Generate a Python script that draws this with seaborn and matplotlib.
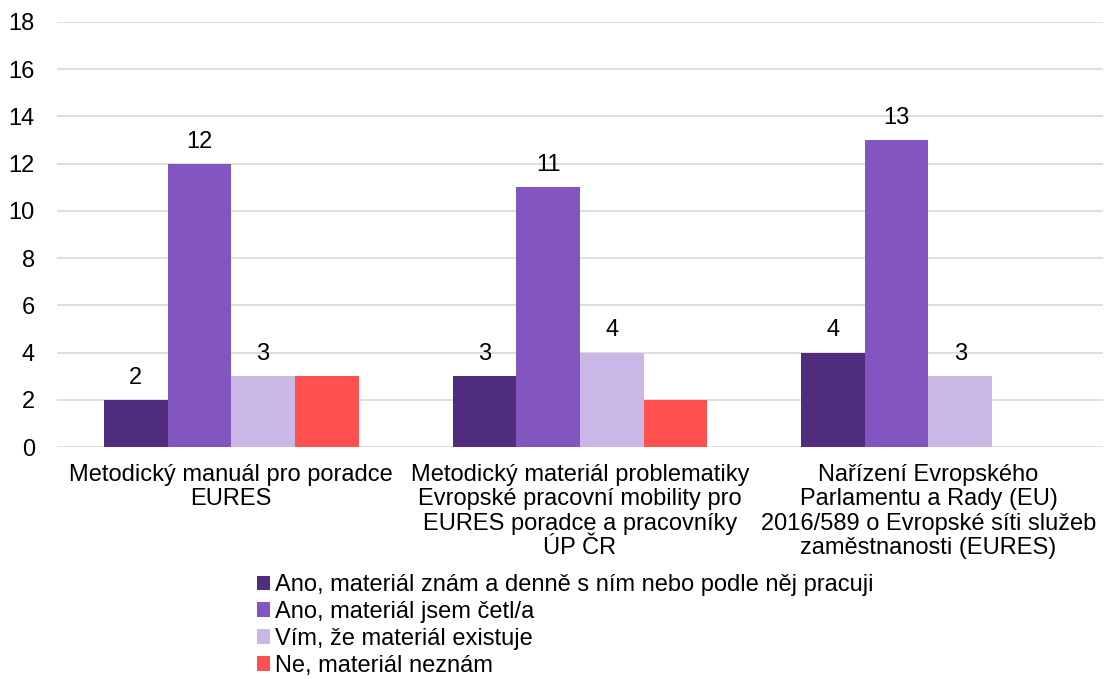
import pandas as pd
import matplotlib.pyplot as plt
import seaborn as sns

# === Data ===
categories = [
    "Metodický manuál pro poradce\nEURES",
    "Metodický materiál problematiky\nEvropské pracovní mobility pro\nEURES poradce a pracovníky\nÚP ČR",
    "Nařízení Evropského\nParlamentu a Rady (EU)\n2016/589 o Evropské síti služeb\nzaměstnanosti (EURES)",
]
series = [
    "Ano, materiál znám a denně s ním nebo podle něj pracuji",
    "Ano, materiál jsem četl/a",
    "Vím, že materiál existuje",
    "Ne, materiál neznám",
]
values = {
    series[0]: [2, 3, 4],
    series[1]: [12, 11, 13],
    series[2]: [3, 4, 3],
    series[3]: [3, 2, 0],
}
colors = ["#502D7E", "#8355C1", "#CAB7E5", "#FF5050"]

rows = []
for s in series:
    for c, v in zip(categories, values[s]):
        rows.append({"kategorie": c, "odpoved": s, "pocet": v})
df = pd.DataFrame(rows)

# === Plot ===
sns.set_style("white")
plt.rcParams["font.family"] = ["Liberation Sans", "DejaVu Sans"]
fs = 17

fig = plt.figure(figsize=(11.05, 6.79), dpi=100)
ax = fig.add_axes([57 / 1105, 1 - 447 / 679, 1 - 57 / 1105 - 0.002, (447 - 22) / 679])

sns.barplot(data=df, x="kategorie", y="pocet", hue="odpoved", hue_order=series,
            palette=colors, width=0.73, saturation=1, linewidth=0, ax=ax, legend=True)

# only the first three series carry value labels
for cont in ax.containers[:3]:
    ax.bar_label(cont, padding=8, fontsize=fs, color="#000000")

ax.set_ylim(0, 18)
ax.set_yticks(range(0, 19, 2))
ax.set_xlim(-0.5, 2.5)
ax.yaxis.grid(True, color="#D9D9D9", linewidth=1.2)
ax.set_axisbelow(True)
for sp in ax.spines.values():
    sp.set_visible(False)
ax.tick_params(axis="both", length=0, labelsize=fs, colors="#000000")
ax.tick_params(axis="y", pad=16)
ax.tick_params(axis="x", pad=12)
for t in ax.get_xticklabels():
    t.set_linespacing(1.15)
ax.set_xlabel("")
ax.set_ylabel("")

handles, labels = ax.get_legend_handles_labels()
ax.get_legend().remove()
fig.legend(handles, labels, loc="upper left", bbox_to_anchor=(257 / 1105, 1 - 574 / 679),
           frameon=False, handlelength=0.55, handleheight=0.55, handletextpad=0.2,
           labelspacing=0.21, borderaxespad=0, borderpad=0, fontsize=fs,
           labelcolor="#000000")

plt.savefig("out.png", dpi=100)
plt.close()
